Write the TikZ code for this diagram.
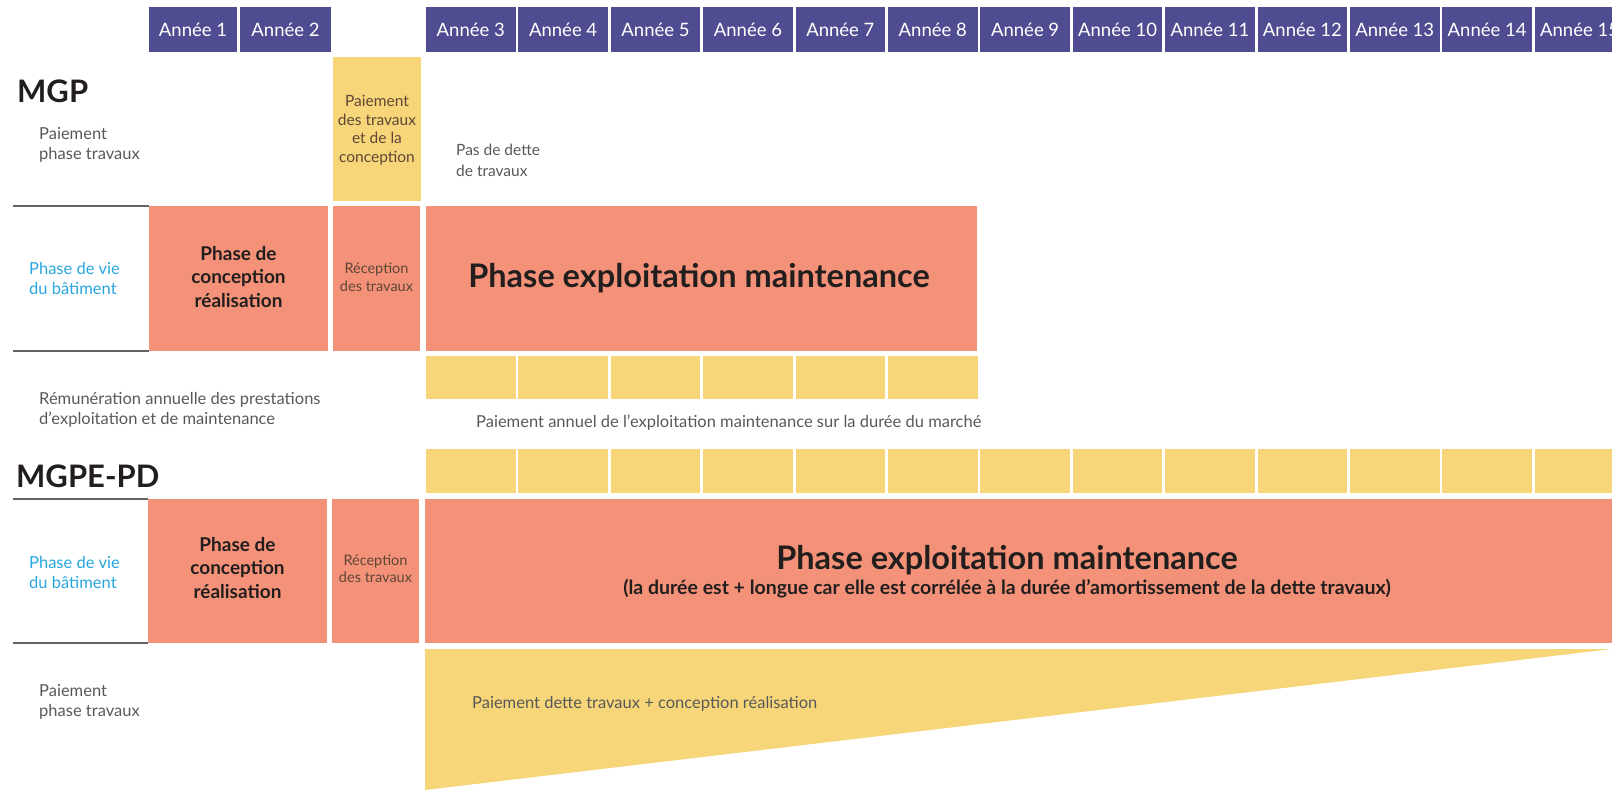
\documentclass[tikz,border=0pt]{standalone}
\usepackage{fontspec}
\setmainfont{Lato}
\usepackage{tikz}

\definecolor{hdrpurple}{RGB}{80,76,146}
\definecolor{salmon}{RGB}{243,146,120}
\definecolor{paieyellow}{RGB}{247,214,122}
\definecolor{vieblue}{RGB}{40,165,222}
\definecolor{txtgray}{RGB}{88,88,88}
\definecolor{rulegray}{RGB}{100,100,100}
\definecolor{browntxt}{RGB}{95,70,55}
\definecolor{darktxt}{RGB}{35,30,30}

\tikzset{
  yearlabel/.style={text=white, inner sep=0pt, font=\fontsize{18.5}{18.5}\selectfont},
  titlelabel/.style={anchor=west, inner sep=0pt, text=darktxt, font=\bfseries\fontsize{31}{31}\selectfont},
  sidelabel/.style={anchor=west, inner sep=0pt, align=left, text=txtgray, font=\fontsize{16.5}{20}\selectfont},
  vielabel/.style={sidelabel, text=vieblue},
  phaselabel/.style={inner sep=0pt, align=center, text=darktxt, font=\bfseries\fontsize{19}{23.5}\selectfont},
  recplabel/.style={inner sep=0pt, align=center, text=browntxt, font=\fontsize{14.5}{17.5}\selectfont},
  bigphase/.style={inner sep=0pt, text=darktxt, font=\bfseries\fontsize{32.5}{32.5}\selectfont},
  rulegrey/.style={rulegray, line width=2pt}
}

\begin{document}
\begin{tikzpicture}[x=1pt,y=-1pt]
		\clip (0,0) rectangle (1612,790);

		% Draw year header
		\fill[hdrpurple] (149,7) rectangle (237,52);
		\node[yearlabel] (an1) at (193,29.5) {Année 1};
		\fill[hdrpurple] (240,7) rectangle (331,52);
		\node[yearlabel] (an2) at (285.5,29.5) {Année 2};
		\foreach \k in {3,...,15}{
			\pgfmathsetmacro{\xl}{426+(\k-3)*92.4}
			\fill[hdrpurple] (\xl,7) rectangle ++(89.5,45);
			\node[yearlabel] (an\k) at (\xl+44.75,29.5) {Année \k};
		}

		% MGP
		\node[titlelabel] (mgp) at (17,91) {MGP};
		\node[sidelabel] (mgppaie) at (39,145) {Paiement\\phase travaux};
		\fill[paieyellow] (333,57) rectangle (421,201);
		\node[recplabel, font=\fontsize{15.5}{18.5}\selectfont] (mgptrav) at (377,130) {Paiement\\des travaux\\et de la\\conception};
		\node[sidelabel, font=\fontsize{15.5}{20.5}\selectfont] (nodette) at (456,160.5) {Pas de dette\\de travaux};

		\draw[rulegrey] (13,206) -- (149,206);
		\draw[rulegrey] (13,351) -- (149,351);
		\node[vielabel] (mgpvie) at (29,278.5) {Phase de vie\\du bâtiment};
		\fill[salmon] (149,206) rectangle (328,351);
		\node[phaselabel] (mgpconc) at (238.5,277) {Phase de\\conception\\réalisation};
		\fill[salmon] (333,206) rectangle (420,351);
		\node[recplabel] (mgprecp) at (376.5,277) {Réception\\des travaux};
		\fill[salmon] (426,206) rectangle (977,351);
		\node[bigphase] (mgpexpl) at (699,278) {Phase exploitation maintenance};

		\foreach \k in {0,...,5}
		\fill[paieyellow] (426+\k*92.4,356) rectangle ++(89.5,43);
		\node[sidelabel] (mgpremu) at (39,410) {Rémunération annuelle des prestations\\d’exploitation et de maintenance};
		\node[sidelabel] (mgpannuel) at (476,422.5) {Paiement annuel de l’exploitation maintenance sur la durée du marché};

		% MGPE-PD
		\node[titlelabel] (mgpe) at (16,476) {MGPE-PD};
		\foreach \k in {0,...,12}
		\fill[paieyellow] (426+\k*92.4,449) rectangle ++(89.5,44);

		\draw[rulegrey] (13,499) -- (148,499);
		\draw[rulegrey] (13,643) -- (148,643);
		\node[vielabel] (mgpevie) at (29,572.5) {Phase de vie\\du bâtiment};
		\fill[salmon] (148,499) rectangle (327,643);
		\node[phaselabel] (mgpeconc) at (237.5,568) {Phase de\\conception\\réalisation};
		\fill[salmon] (332,499) rectangle (419,643);
		\node[recplabel] (mgperecp) at (375.5,568.5) {Réception\\des travaux};
		\fill[salmon] (425,499) rectangle (1612,643);
		\node[bigphase] (mgpeexpl) at (1007,560) {Phase exploitation maintenance};
		\node[bigphase, font=\bfseries\fontsize{19.5}{19.5}\selectfont] (mgpedure) at (1007,589) {(la durée est + longue car elle est corrélée à la durée d’amortissement de la dette travaux)};

		\fill[paieyellow] (425,649) -- (1612,649) -- (425,790) -- cycle;
		\node[sidelabel] (mgpedette) at (472,704) {Paiement dette travaux + conception réalisation};
		\node[sidelabel] (mgpepaie) at (39,701.5) {Paiement\\phase travaux};
	\end{tikzpicture}
\end{document}
